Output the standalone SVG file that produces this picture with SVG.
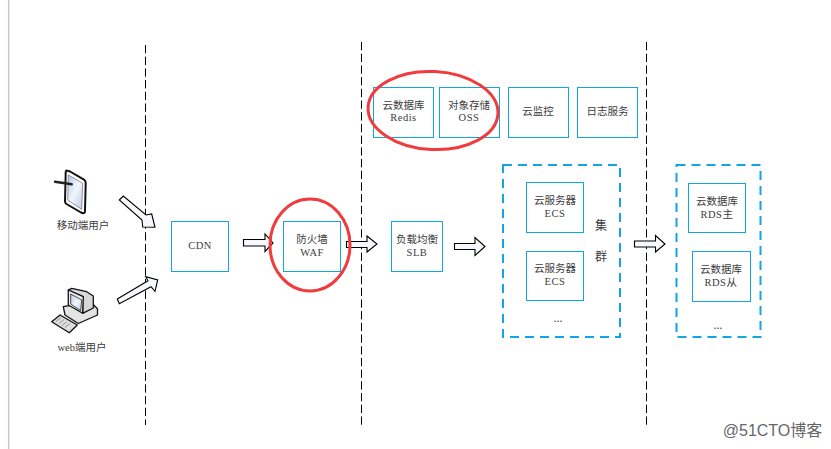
<svg xmlns="http://www.w3.org/2000/svg" width="831" height="449" viewBox="0 0 831 449">
<defs>
<linearGradient id="scr" x1="0" y1="0" x2="1" y2="1"><stop offset="0" stop-color="#b5c8e6"/><stop offset="0.5" stop-color="#f2f6fc"/><stop offset="1" stop-color="#bccbe6"/></linearGradient>
</defs>
<style>
text{font-family:"Noto Sans CJK SC","Liberation Serif",serif;font-size:10.5px;fill:#3c3c3c;text-anchor:middle}
.m{font-family:"Liberation Serif","Noto Sans CJK SC",serif;font-size:10.5px;letter-spacing:.5px}
.b{fill:#fff;stroke:#12a5e4;stroke-width:1}
.c{fill:none;stroke:#12a5e4;stroke-width:2;stroke-dasharray:9 6}
.d{fill:none;stroke:#000;stroke-width:1;stroke-dasharray:8.300 3.400}
.a{fill:#f6f8fc;stroke:#000;stroke-width:1.100}
.r{fill:none;stroke:#f03c3c;stroke-width:3}
.k{stroke:#111;stroke-width:1.300;stroke-linejoin:round}
</style>
<rect width="831" height="449" fill="#fff"/>
<path d="M8.700 0V449" stroke="#c8c8c8" stroke-width="1.500"/>
<g id="connectors">
<path class="d" d="M145.500 45V425"/>
<path class="d" d="M361.500 42V427"/>
<path class="d" d="M646.500 42V427"/>
</g>
<g id="cluster-ecs"><rect class="c" x="503" y="165" width="117" height="172"/><text x="601" y="230" style="font-size:12px">集</text><text x="601" y="261" style="font-size:12px">群</text><text x="558" y="322">...</text></g>
<g id="cluster-rds"><rect class="c" x="676.500" y="165" width="84" height="172"/><text x="718" y="329">...</text></g>
<g id="redis"><rect class="b" x="373.500" y="87.500" width="60" height="50"/><text x="403.500" y="109">云数据库</text><text class="m" x="403.500" y="121">Redis</text></g>
<g id="oss"><rect class="b" x="439.500" y="87.500" width="60" height="50"/><text x="469" y="109">对象存储</text><text class="m" x="469" y="121">OSS</text></g>
<g id="monitor"><rect class="b" x="508.500" y="87.500" width="60" height="50"/><text x="538" y="115">云监控</text></g>
<g id="log"><rect class="b" x="577.500" y="87.500" width="60" height="50"/><text x="607.500" y="115">日志服务</text></g>
<g id="cdn"><rect class="b" x="171.500" y="221.500" width="57" height="50"/><text class="m" x="200" y="249">CDN</text></g>
<g id="waf"><rect class="b" x="283.500" y="221.500" width="57" height="50"/><text x="312" y="243">防火墙</text><text class="m" x="312" y="256">WAF</text></g>
<g id="slb"><rect class="b" x="391.500" y="221.500" width="51" height="50"/><text x="417" y="243">负载均衡</text><text class="m" x="417" y="256">SLB</text></g>
<g id="ecs1"><rect class="b" x="526.500" y="182.500" width="57" height="50"/><text x="555" y="204">云服务器</text><text class="m" x="555" y="217">ECS</text></g>
<g id="ecs2"><rect class="b" x="526.500" y="251.500" width="57" height="49"/><text x="555" y="272">云服务器</text><text class="m" x="555" y="285">ECS</text></g>
<g id="rds-master"><rect class="b" x="688.500" y="183.500" width="57" height="49"/><text x="717" y="205">云数据库</text><text x="717" y="218" class="m">RDS主</text></g>
<g id="rds-slave"><rect class="b" x="692.500" y="251.500" width="58" height="50"/><text x="721" y="273">云数据库</text><text x="721" y="286" class="m">RDS从</text></g>
<g id="arrows">
<path class="a" d="M243.500 239.500H265V234L273 243L265 251.500V246H243.500Z"/>
<path class="a" d="M346.500 241.500H367V236L377 244L367 252V247.500H346.500Z"/>
<path class="a" d="M454.500 243.500H475V237.500L485 246.500L475 255.500V249.500H454.500Z"/>
<path class="a" d="M634.500 241H655.500V235.500L665 244L655.500 252V247H634.500Z"/>
<path class="a" d="M119.300 200L123.300 196L146 215L151.700 214L155 227.300L142.700 227L142 220Z"/>
<path class="a" d="M117.300 299L119.300 303.700L151 286.700L155 291.300L157.700 280L145.700 276.700L148 280.700Z"/>
</g>
<g id="mobile-user">
<path d="M67.500 170.700Q65.700 170 65.700 172.500L65 201.500Q65 203 66.500 204L81 212.500Q85 214.500 85 211L85.700 183Q85.700 180.700 84 179.700L70 171.500Q68.500 170.800 67.500 170.700Z" fill="#fff" stroke="#111" stroke-width="2" stroke-linejoin="round"/>
<path d="M68.300 175L82.700 183.300L81.700 209.300L67.700 200Z" fill="url(#scr)" stroke="#555" stroke-width=".6"/>
<path d="M55 181.700L71.700 184.300" stroke="#222" stroke-width="2.500" stroke-linecap="round"/>
<text x="83" y="229">移动端用户</text>
</g>
<g id="web-user">
<path class="k" d="M63.300 306.700L91 302L97.500 309V315L78.300 323.500L65 315Z" fill="#e4e4e4"/>
<path class="k" d="M71.700 288.300L86.700 291.700L93.300 296V308L82.700 313.300V296.700L68.300 290Z" fill="#d8d8d8"/>
<path class="k" d="M68.300 290L83.300 296.700L82.700 313.300L68.300 305Z" fill="#eee"/>
<path d="M70.700 294L81.700 300L80.700 310.700L70.700 304Z" fill="url(#scr)" stroke="#222" stroke-width=".8"/>
<path class="k" d="M51.700 321.700L60 315L77.300 325L69.300 332.700Z" fill="#ddd"/>
<path d="M56 321.500L61 317.500M59 323.500L64 319.500M62 325.500L67 321.500M65 327.500L70 323.500" stroke="#888" stroke-width=".8" fill="none"/>
<text x="82" y="351" style="font-family:'Liberation Serif','Noto Sans CJK SC',serif">web端用户</text>
</g>
<g id="circles">
<ellipse class="r" cx="433" cy="110.500" rx="65" ry="39" transform="rotate(3 433 110.500)"/>
<ellipse class="r" cx="310" cy="245" rx="40" ry="46"/>
</g>
<text x="772.500" y="436" style="font-family:'Liberation Sans','Noto Sans CJK SC',sans-serif;font-size:16px;fill:#666">@51CTO博客</text>
</svg>
